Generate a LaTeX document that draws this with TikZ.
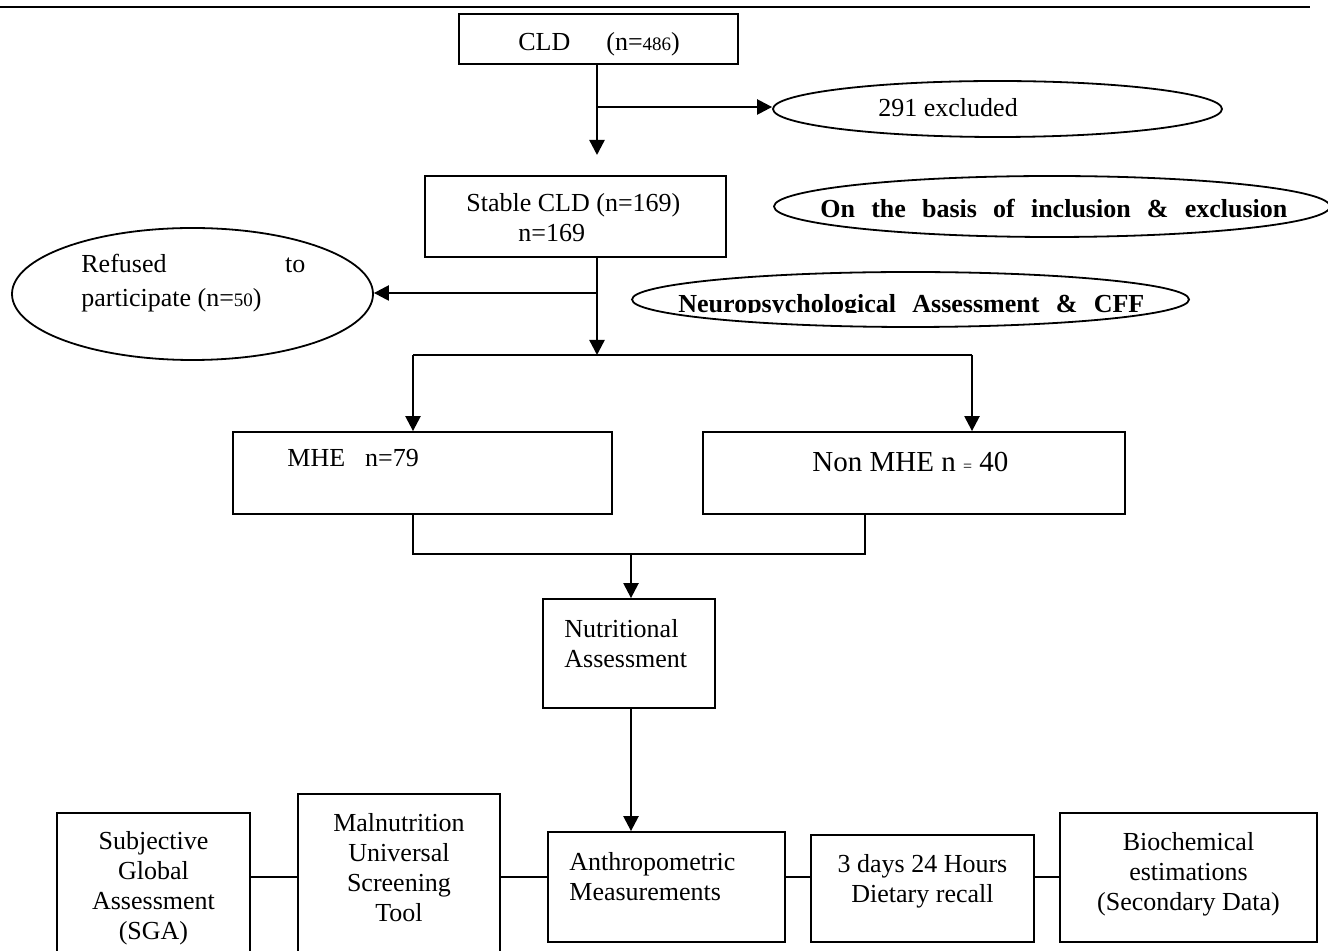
\documentclass[tikz,border=0pt]{standalone}
\usepackage{fontspec}
\setmainfont{Liberation Serif}
\usetikzlibrary{arrows.meta,shapes.geometric}
\begin{document}
\begin{tikzpicture}[x=0.5pt,y=-0.5pt,
  box/.style={draw,line width=0.9pt,rectangle,inner sep=0pt},
  ell/.style={draw,line width=0.9pt,ellipse,inner sep=0pt},
  conn/.style={line width=1.2pt},
  arr/.style={line width=1.2pt,-{Triangle[length=7.5pt,width=7.5pt]}},
  txt/.style={inner sep=0pt,font=\fontsize{13}{15}\selectfont},
  btxt/.style={inner sep=0pt,font=\fontsize{13}{15}\selectfont\bfseries},
  mtxt/.style={txt,align=center},
]
\useasboundingbox (0,0) rectangle (1328,951);
\draw[line width=1pt] (0,7) -- (1310,7);

% top
\node[box,minimum width=139.5pt,minimum height=25pt] (cld) at (598.5,39) {};
\node[txt,anchor=base west] (cldT) at (518,51) {CLD\hspace{18pt}(n={\fontsize{9.5}{12}\selectfont 486})};

\node[ell,minimum width=224.5pt,minimum height=28pt] (ex) at (997.5,109) {};
\node[txt,anchor=base west] (exT) at (878,117) {291 excluded};

\node[box,minimum width=150.5pt,minimum height=40.5pt] (stable) at (575.5,216.5) {};
\node[txt,anchor=base west] (stT1) at (466,212) {Stable CLD (n=169)};
\node[txt,anchor=base west] (stT2) at (518,242) {n=169};

\node[ell,minimum width=278pt,minimum height=30.5pt] (incl) at (1052,206.5) {};
\node[btxt,anchor=base west] (inclT) at (820,218) {\makebox[233.5pt][s]{On the basis of inclusion \& exclusion}};

\node[ell,minimum width=180.5pt,minimum height=66pt] (ref) at (192.5,294) {};
\node[txt,anchor=base west] (refT1) at (81,273) {\makebox[112pt][s]{Refused to}};
\node[txt,anchor=base west] (refT2) at (81,307) {participate (n={\fontsize{9.5}{12}\selectfont 50})};

\node[ell,minimum width=278.5pt,minimum height=27.5pt] (neuro) at (910.5,299.5) {};
\begin{scope}
\clip (640,280) rectangle (1180,313);
\node[btxt,anchor=base west] (neuroT) at (678,313) {\makebox[233pt][s]{Neuropsychological Assessment \& CFF}};
\end{scope}

% middle
\node[box,minimum width=189.5pt,minimum height=41pt] (mhe) at (422.5,473) {};
\node[txt,anchor=base west] (mheT) at (287,467) {MHE\hspace{10pt}n=79};
\node[box,minimum width=211pt,minimum height=41pt] (nonmhe) at (914,473) {};
\node[txt,anchor=base west,font=\fontsize{14.5}{17}\selectfont] (nonT) at (812,472) {Non MHE n {\fontsize{8}{10}\selectfont =} 40};

\node[box,minimum width=86pt,minimum height=54.5pt] (nutr) at (629,653.5) {};
\node[txt,anchor=west,align=left] (nutrT) at (564,644) {Nutritional\\Assessment};

% bottom
\node[box,minimum width=96.5pt,minimum height=73.5pt] (sga) at (153.5,886.5) {};
\node[mtxt] (sgaT) at (153.5,888) {Subjective\\Global\\Assessment\\(SGA)};
\node[box,minimum width=101pt,minimum height=83pt] (mal) at (399,877) {};
\node[mtxt] (malT) at (399,868) {Malnutrition\\Universal\\Screening\\Tool};
\node[box,minimum width=118.5pt,minimum height=55pt] (anthro) at (666.5,887) {};
\node[txt,anchor=west,align=left] (anthroT) at (569,877) {Anthropometric\\Measurements};
\node[box,minimum width=111.5pt,minimum height=53.5pt] (days) at (922.5,888.5) {};
\node[mtxt] (daysT) at (922.5,881) {3 days 24 Hours\\Dietary recall};
\node[box,minimum width=128.5pt,minimum height=64.5pt] (bio) at (1188.5,877.5) {};
\node[mtxt] (bioT) at (1188.5,874) {Biochemical\\estimations\\(Secondary Data)};

% connectors
\coordinate (j1) at (597,107);
\coordinate (t1) at (597,155);
\draw[arr] (j1 |- cld.south) -- (t1);
\draw[arr] (j1) -- (j1 -| ex.west);

\coordinate (j2) at (597,293);
\coordinate (t2) at (597,355);
\draw[arr] (j2 |- stable.south) -- (t2);
\draw[arr] (j2) -- (j2 -| ref.east);

\coordinate (sl) at (413,355);
\coordinate (sr) at (972,355);
\draw[conn] (sl) -- (sr);
\draw[arr] (sl) -- (sl |- mhe.north);
\draw[arr] (sr) -- (sr |- nonmhe.north);

\coordinate (ml) at (413,554);
\coordinate (mr) at (865,554);
\coordinate (mc) at (631,554);
\draw[conn] (ml |- mhe.south) -- (ml) -- (mr) -- (mr |- nonmhe.south);
\draw[arr] (mc) -- (mc |- nutr.north);
\draw[arr] (mc |- nutr.south) -- (mc |- anthro.north);

\coordinate (bl) at (0,877);
\draw[conn] (sga.east |- bl) -- (mal.west |- bl);
\draw[conn] (mal.east |- bl) -- (anthro.west |- bl);
\draw[conn] (anthro.east |- bl) -- (days.west |- bl);
\draw[conn] (days.east |- bl) -- (bio.west |- bl);
\end{tikzpicture}
\end{document}
